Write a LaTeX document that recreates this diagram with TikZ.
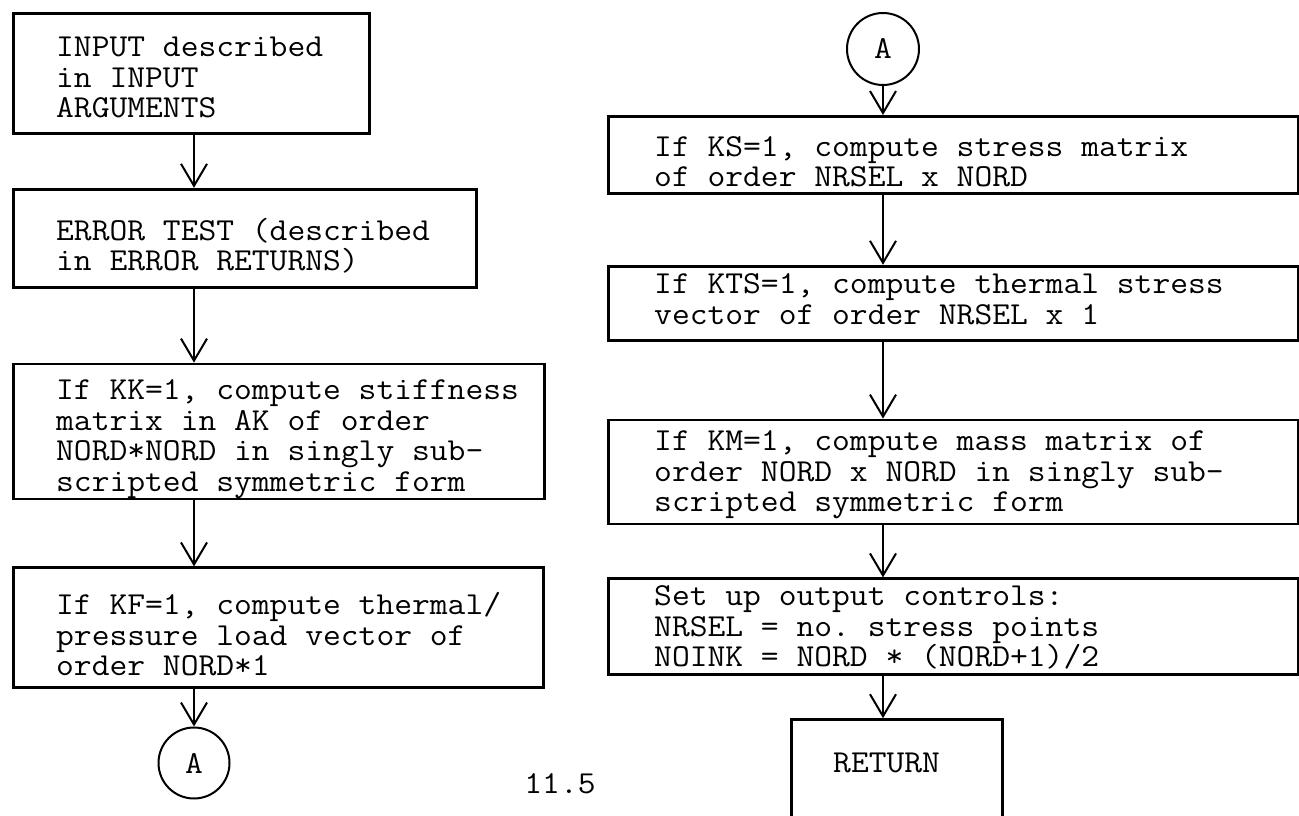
\documentclass[tikz,border=0pt]{standalone}
\usepackage{fontspec}
\setmonofont[FakeStretch=1.08]{lmmono12-regular.otf}
\usepackage{tikz}
\usetikzlibrary{arrows.meta, positioning}
\newcommand{\flowfont}{\fontsize{32pt}{30.5pt}\selectfont\ttfamily}
\tikzstyle{flowbox} = [rectangle, draw=black, line width=2.8pt, anchor=north west, inner sep=0pt]
\tikzstyle{boxtext} = [anchor=north west, inner sep=0pt, align=left, font=\flowfont]
\tikzstyle{connector} = [circle, draw=black, line width=2pt, minimum size=71pt, inner sep=0pt, font=\flowfont]
\tikzstyle{arrow} = [line width=2pt, -{Straight Barb[length=22pt, width=26pt, line width=2pt]}]

\begin{document}
\begin{tikzpicture}[x=1pt, y=-1pt]
    \clip[use as bounding box] (0,0) rectangle (1299,816);
    \coordinate (colL) at (194,0);
    \coordinate (colR) at (883,0);

    % left column
    \node (input) [flowbox, minimum width=356pt, minimum height=120pt] at (12,12) {};
    \node (inputtxt) [boxtext, below right=25pt and 44pt of input.north west] {INPUT described\\in INPUT\\ARGUMENTS};
    \node (errtest) [flowbox, minimum width=463pt, minimum height=98pt, below right=53pt and 0pt of input.south west] {};
    \node (errtxt) [boxtext, below right=30pt and 44pt of errtest.north west] {ERROR TEST (described\\in ERROR RETURNS)};
    \node (stiff) [flowbox, minimum width=531pt, minimum height=135pt, below right=74pt and 0pt of errtest.south west] {};
    \node (stifftxt) [boxtext, below right=17pt and 44pt of stiff.north west] {If KK=1, compute stiffness\\matrix in AK of order\\NORD*NORD in singly sub-\\scripted symmetric form};
    \node (load) [flowbox, minimum width=530pt, minimum height=120pt, below right=66pt and 0pt of stiff.south west] {};
    \node (loadtxt) [boxtext, below right=26pt and 44pt of load.north west] {If KF=1, compute thermal/\\pressure load vector of\\order NORD*1};
    \node (offL) [connector] at (194,763) {A};

    \draw [arrow] (input.south -| colL) -- (errtest.north -| colL);
    \draw [arrow] (errtest.south -| colL) -- (stiff.north -| colL);
    \draw [arrow] (stiff.south -| colL) -- (load.north -| colL);
    \draw [arrow] (load.south -| colL) -- (offL.north);

    % right column
    \node (onR) [connector, minimum size=72pt] at (883,49) {A};
    \node (stress) [flowbox, minimum width=690pt, minimum height=77pt] at (607,115) {};
    \node (stresstxt) [boxtext, below right=21pt and 47pt of stress.north west] {If KS=1, compute stress matrix\\of order NRSEL x NORD};
    \node (tstress) [flowbox, minimum width=690pt, minimum height=74pt, below right=70pt and 0pt of stress.south west] {};
    \node (tstresstxt) [boxtext, below right=9pt and 47pt of tstress.north west] {If KTS=1, compute thermal stress\\vector of order NRSEL x 1};
    \node (mass) [flowbox, minimum width=690pt, minimum height=104pt, below right=77pt and 0pt of tstress.south west] {};
    \node (masstxt) [boxtext, below right=12pt and 47pt of mass.north west] {If KM=1, compute mass matrix of\\order NORD x NORD in singly sub-\\scripted symmetric form};
    \node (setup) [flowbox, minimum width=690pt, minimum height=96pt, below right=52pt and 0pt of mass.south west] {};
    \node (setuptxt) [boxtext, below right=8pt and 47pt of setup.north west] {Set up output controls:\\NRSEL = no. stress points\\NOINK = NORD * (NORD+1)/2};
    \node (ret) [flowbox, minimum width=211pt, minimum height=180pt, below right=42pt and 183pt of setup.south west] {};
    \node (rettxt) [boxtext, below right=35pt and 43pt of ret.north west] {RETURN};

    \draw [arrow] (onR.south) -- (stress.north -| colR);
    \draw [arrow] (stress.south -| colR) -- (tstress.north -| colR);
    \draw [arrow] (tstress.south -| colR) -- (mass.north -| colR);
    \draw [arrow] (mass.south -| colR) -- (setup.north -| colR);
    \draw [arrow] (setup.south -| colR) -- (ret.north -| colR);

    \node (pagenum) [font=\flowfont] at (560,784) {11.5};
\end{tikzpicture}
\end{document}
